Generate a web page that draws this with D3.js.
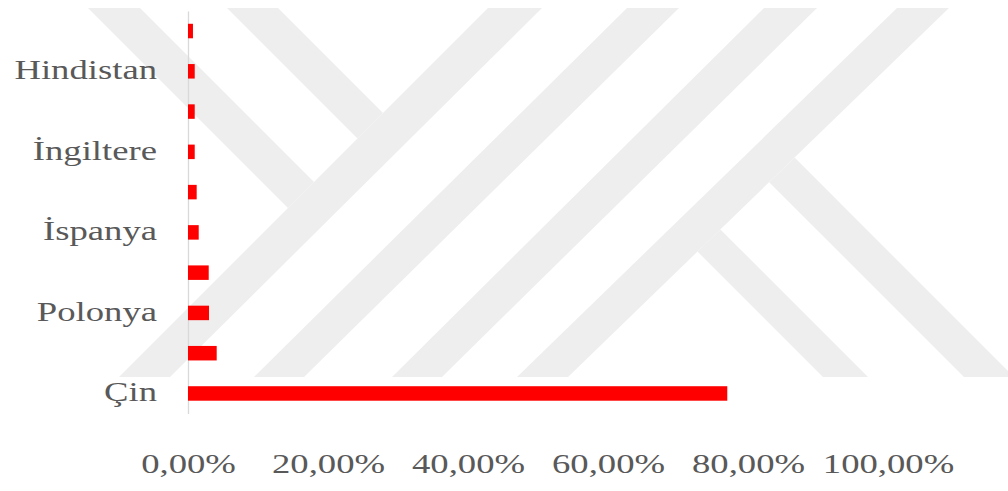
<!DOCTYPE html>
<html>
<head>
<meta charset="utf-8">
<script src="https://cdn.jsdelivr.net/npm/d3@7"></script>
<style>
  html, body { margin: 0; padding: 0; background: #ffffff; }
  svg { display: block; }
</style>
</head>
<body>
<svg id="chart" width="1008" height="491"></svg>
<script>
// Countries, bottom to top; only every other band carries a label
const categories = ["Çin", "", "Polonya", "", "İspanya", "", "İngiltere", "", "Hindistan", ""];
// Share of each country, in percent
const shares = [77.04, 4.10, 3.00, 2.96, 1.53, 1.24, 0.96, 0.96, 0.96, 0.71];
// Percent axis ticks
const xTicks = [0, 20, 40, 60, 80, 100];

const FONT = "'Liberation Serif', 'Times New Roman', serif";
const TEXT_COLOR = "#595959";
const STRETCH = 1.31;

const svg = d3.select("#chart");

// ---- background watermark: diagonal bands ----
const wm = svg.append("g").attr("fill", "#eeeeee");
const TOP = 8, BOT = 377;

function intersect(a1, a2, b1, b2) {
  const d = (a1[0] - a2[0]) * (b1[1] - b2[1]) - (a1[1] - a2[1]) * (b1[0] - b2[0]);
  const t = ((a1[0] - b1[0]) * (b1[1] - b2[1]) - (a1[1] - b1[1]) * (b1[0] - b2[0])) / d;
  return [a1[0] + t * (a2[0] - a1[0]), a1[1] + t * (a2[1] - a1[1])];
}

// long bands rising to the right
const longBands = [
  { top: [488, 542], bot: [119, 170] },
  { top: [627, 679], bot: [254, 304] },
  { top: [764, 817], bot: [392, 442] },
  { top: [897, 949], bot: [517, 568] }
];
longBands.forEach(b => {
  wm.append("polygon").attr("points", [
    [b.top[0], TOP], [b.top[1], TOP], [b.bot[1], BOT], [b.bot[0], BOT]
  ].join(" "));
});

// short arms falling to the right, ending on the first long band
const L1 = longBands[0];
const l1Left = [[L1.top[0], TOP], [L1.bot[0], BOT]];
[[88, 140], [227, 278]].forEach(([a, b]) => {
  const pb = intersect([b, TOP], [b + 100, TOP + 100], l1Left[0], l1Left[1]);
  const pa = intersect([a, TOP], [a + 100, TOP + 100], l1Left[0], l1Left[1]);
  wm.append("polygon").attr("points", [[a, TOP], [b, TOP], pb, pa].join(" "));
});

// legs falling to the right from the last long band
const L4 = longBands[3];
const l4Right = [[L4.top[1], TOP], [L4.bot[1], BOT]];
[[823, 868], [964, 1014]].forEach(([p, q]) => {
  const pp = intersect([p, BOT], [p - 100, BOT - 100], l4Right[0], l4Right[1]);
  const pq = intersect([q, BOT], [q - 100, BOT - 100], l4Right[0], l4Right[1]);
  wm.append("polygon").attr("points", [pp, pq, [q, BOT], [p, BOT]].join(" "));
});

// ---- scales ----
const x = d3.scaleLinear().domain([0, 100]).range([188, 888]);
const y = d3.scaleBand()
  .domain(d3.range(categories.length).reverse())
  .range([10.9, 413.6])
  .paddingInner(0.64)
  .paddingOuter(0.32);

// ---- category axis ----
const yAxis = svg.append("g")
  .attr("transform", `translate(${x(0)},0)`)
  .call(d3.axisLeft(y).tickSize(0).tickSizeOuter(0).tickPadding(0)
    .tickFormat(i => categories[i]));
yAxis.select(".domain").attr("stroke", "#d9d9d9").attr("stroke-width", 1.3);
yAxis.attr("font-family", FONT).attr("font-size", 28);
yAxis.selectAll(".tick text")
  .attr("x", 0)
  .attr("dy", "0.28em")
  .attr("fill", TEXT_COLOR)
  .attr("transform", `translate(-31,0) scale(${STRETCH},1)`);

// ---- bars ----
svg.append("g").selectAll("rect")
  .data(shares)
  .join("rect")
  .attr("x", x(0))
  .attr("y", (d, i) => y(i))
  .attr("width", d => x(d) - x(0))
  .attr("height", y.bandwidth())
  .attr("fill", "#ff0000");

// ---- percent axis ----
const trLocale = d3.formatLocale({ decimal: ",", thousands: ".", grouping: [3], currency: ["", "₺"] });
const fmt = trLocale.format(".2f");
const xAxis = svg.append("g")
  .attr("transform", `translate(0,${413.6})`)
  .call(d3.axisBottom(x).tickValues(xTicks).tickSize(0).tickSizeOuter(0)
    .tickFormat(v => fmt(v) + "%"));
xAxis.select(".domain").remove();
xAxis.attr("font-family", FONT).attr("font-size", 28);
xAxis.selectAll(".tick text")
  .attr("y", 0)
  .attr("dy", 0)
  .attr("fill", TEXT_COLOR)
  .attr("transform", `translate(0,${473 - 413.6}) scale(${STRETCH},1)`);
</script>
</body>
</html>
